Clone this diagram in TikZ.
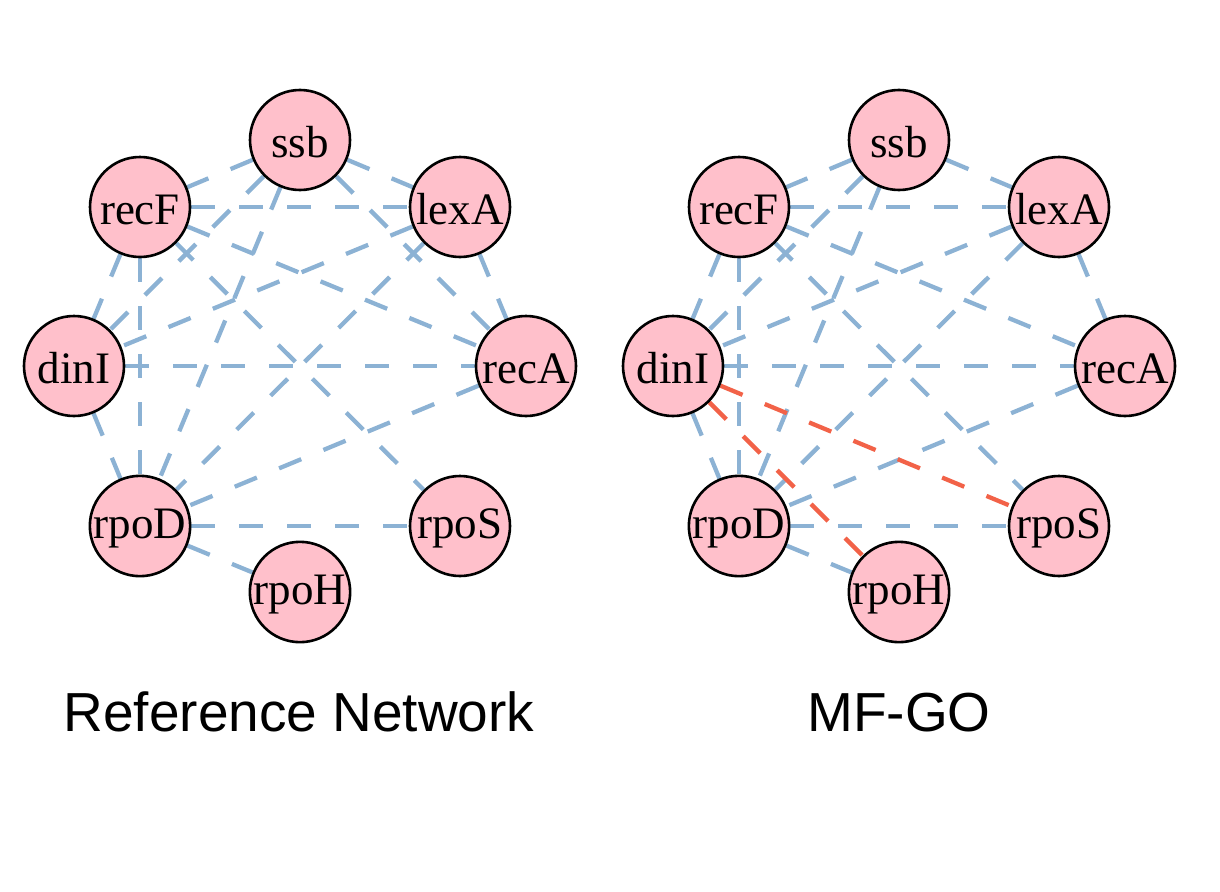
\documentclass[tikz,border=0pt]{standalone}
\usepackage{fontspec}
\setmainfont{Liberation Serif}
\newfontfamily\titlefont{Liberation Sans}
\usetikzlibrary{backgrounds}
\definecolor{edgeblue}{RGB}{140,178,212}
\definecolor{edgered}{RGB}{242,98,72}
\definecolor{nodepink}{RGB}{255,192,203}
\newcommand\gtxt[1]{\raisebox{-2.5pt}[\height][\depth]{#1}}
\begin{document}
\begin{tikzpicture}[x=1pt,y=-1pt,
  gene/.style={circle, draw=black, line width=2.6pt, fill=nodepink, minimum size=100pt,
    inner sep=0pt, font=\fontsize{45}{45}\selectfont},
  link/.style={draw=edgeblue, line width=4.3pt, dash pattern=on 24pt off 24pt},
  hit/.style={link, draw=edgered},
  caption/.style={anchor=base, font=\titlefont\fontsize{55}{55}\selectfont}]
\useasboundingbox (0,0) rectangle (1220,891);
\foreach \p/\dx in {L/0, R/599} {
  \begin{scope}[xshift=\dx]
  \node[gene] (\p-ssb)  at (300,140) {\gtxt{ssb}};
  \node[gene] (\p-recF) at (140,207) {\gtxt{recF}};
  \node[gene] (\p-lexA) at (460,207) {\gtxt{lexA}};
  \node[gene] (\p-dinI) at (74,366)  {\gtxt{dinI}};
  \node[gene] (\p-recA) at (526,366) {\gtxt{recA}};
  \node[gene] (\p-rpoD) at (140,526) {\gtxt{rpoD}};
  \node[gene] (\p-rpoS) at (460,526) {\gtxt{rpoS}};
  \node[gene] (\p-rpoH) at (300,592) {\gtxt{rpoH}};
  \end{scope}
  \begin{pgfonlayer}{background}
  \foreach \a/\b in {ssb/recF, ssb/lexA, ssb/dinI, ssb/rpoD, recF/lexA, recF/recA,
      recF/rpoS, recF/dinI, recF/rpoD, lexA/recA, lexA/dinI, lexA/rpoD, dinI/recA,
      dinI/rpoD, recA/rpoD, rpoD/rpoS, rpoD/rpoH}
    \draw[link] (\p-\a) -- (\p-\b);
  \end{pgfonlayer}
}
\begin{pgfonlayer}{background}
  \draw[link] (L-ssb) -- (L-recA);
  \draw[hit] (R-dinI) -- (R-rpoS);
  \draw[hit] (R-dinI) -- (R-rpoH);
\end{pgfonlayer}
\node[caption] (t1) at (299,731) {Reference Network};
\node[caption] (t2) at (899,731) {MF-GO};
\end{tikzpicture}
\end{document}
